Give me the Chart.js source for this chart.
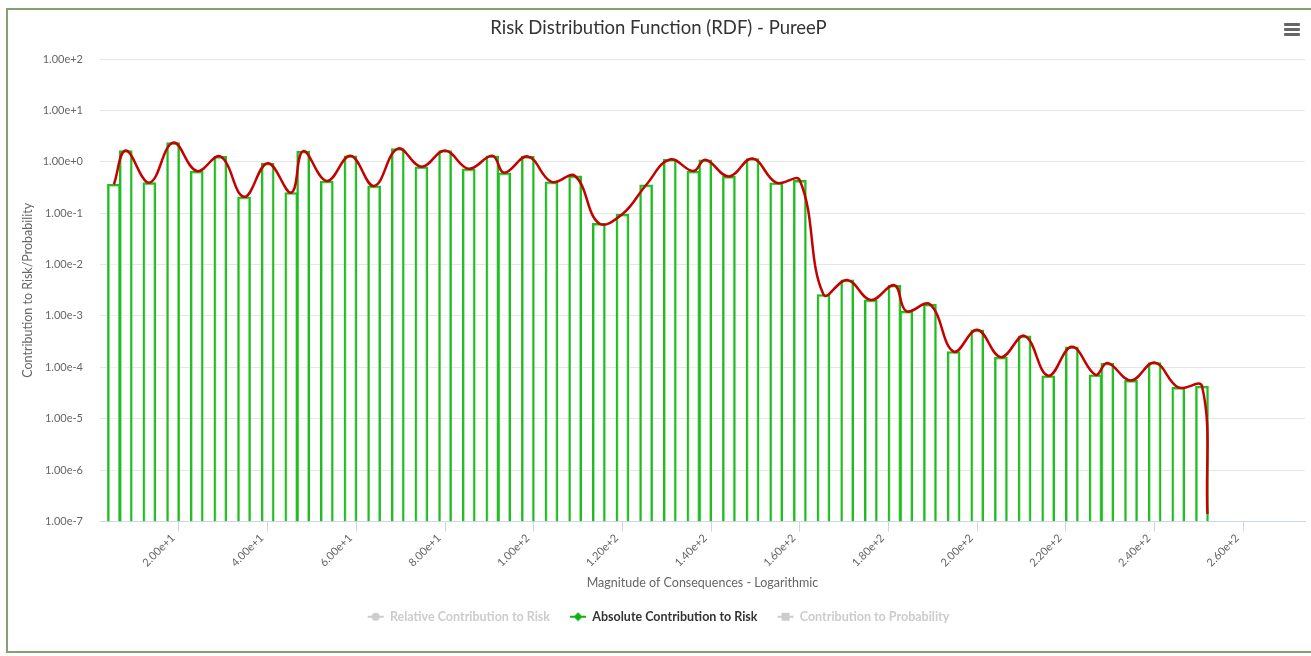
<!DOCTYPE html>
<html>
<head>
<meta charset="utf-8">
<title>Risk Distribution Function (RDF) - PureeP</title>
<script src="https://cdn.jsdelivr.net/npm/chart.js@4.4.1/dist/chart.umd.min.js"></script>
<style>
  html, body { margin: 0; padding: 0; background: #ffffff; overflow: hidden; }
  #wrap { position: relative; width: 1311px; height: 656px; }
  #rdf { position: absolute; left: 0; top: 0; }
  #frame { position: absolute; left: 6px; top: 8px; width: 1400px; height: 645px;
           border: 2px solid #83a26f; box-sizing: border-box; pointer-events: none; }
  #menu { position: absolute; left: 1284px; top: 23px; width: 16px; }
  #menu span { display: block; height: 3px; background: #666666; margin-bottom: 2px; border-radius: 1px; }
</style>
</head>
<body>
<div id="wrap">
  <canvas id="rdf" width="1311" height="656"></canvas>
  <div id="frame"></div>
  <div id="menu"><span></span><span></span><span></span></div>
</div>
<script>
// Consequence magnitudes (x) of each bin
const magnitudes = [
  5.33, 8.0, 13.33, 18.67, 24.0, 29.33, 34.67, 40.0, 45.33, 48.0,
  53.33, 58.67, 64.0, 69.33, 74.67, 80.0, 85.33, 90.67, 93.33, 98.67,
  104.0, 109.33, 114.67, 120.0, 125.33, 130.67, 136.0, 138.67, 144.0, 149.33,
  154.67, 160.0, 165.33, 170.67, 176.0, 181.33, 184.0, 189.33, 194.67, 200.0,
  205.33, 210.67, 216.0, 221.33, 226.67, 229.33, 234.67, 240.0, 245.33, 250.67
];

// Absolute contribution to risk for each bin
const absoluteRisk = [
  0.365, 1.66, 0.393, 2.36, 0.66, 1.27, 0.208, 0.94, 0.252, 1.61,
  0.423, 1.31, 0.339, 1.81, 0.80, 1.66, 0.73, 1.31, 0.61, 1.27,
  0.405, 0.53, 0.0634, 0.096, 0.354, 1.11, 0.66, 1.09, 0.519, 1.16,
  0.391, 0.434, 2.61e-3, 5.02e-3, 2.05e-3, 3.95e-3, 1.24e-3, 1.69e-3, 2.03e-4, 5.36e-4,
  1.58e-4, 4.10e-4, 6.86e-5, 2.51e-4, 7.16e-5, 1.21e-4, 5.56e-5, 1.24e-4, 4.06e-5, 4.32e-5
];

// Where the fitted curve closes off after the last bin
const tailMagnitude = 251.9;
const tailRisk = 1.4e-7;

// Axis tick values
const xTicks = [20, 40, 60, 80, 100, 120, 140, 160, 180, 200, 220, 240, 260];
const yTicks = [1e-7, 1e-6, 1e-5, 1e-4, 1e-3, 1e-2, 1e-1, 1e0, 1e1, 1e2];

const FONT = 'Lato, "Open Sans", "DejaVu Sans", sans-serif';
Chart.defaults.font.family = FONT;

const GREEN = '#1fbd1f';
const RED = '#c40000';
const MUTED = '#cccccc';

// Legend symbol: short line with a marker in the middle
function legendSymbol(color, shape) {
  const c = document.createElement('canvas');
  c.width = 18; c.height = 10;
  const g = c.getContext('2d');
  g.strokeStyle = color; g.lineWidth = 2;
  g.beginPath(); g.moveTo(1, 5); g.lineTo(17, 5); g.stroke();
  g.fillStyle = color;
  g.beginPath();
  if (shape === 'circle') {
    g.arc(9, 5, 4, 0, Math.PI * 2);
  } else if (shape === 'diamond') {
    g.moveTo(9, 0.5); g.lineTo(13.5, 5); g.lineTo(9, 9.5); g.lineTo(4.5, 5); g.closePath();
  } else {
    g.rect(5, 1, 8, 8);
  }
  g.fill();
  return c;
}

const barPoints = magnitudes.map((m, i) => ({ x: m, y: absoluteRisk[i] }));
const curvePoints = barPoints.concat([{ x: tailMagnitude, y: tailRisk }]);

const chart = new Chart(document.getElementById('rdf'), {
  type: 'bar',
  data: {
    datasets: [
      {
        type: 'line',
        label: 'Relative Contribution to Risk',
        legendShape: 'circle',
        legendColor: '#888888',
        data: [],
        hidden: true
      },
      {
        type: 'bar',
        label: 'Absolute Contribution to Risk',
        legendShape: 'diamond',
        legendColor: '#11b011',
        data: barPoints,
        backgroundColor: 'rgba(255,255,255,0.35)',
        borderColor: GREEN,
        borderWidth: 2,
        borderSkipped: 'start',
        barThickness: 13,
        order: 2
      },
      {
        type: 'line',
        label: 'Contribution to Probability',
        legendShape: 'square',
        legendColor: '#888888',
        data: [],
        hidden: true
      },
      {
        type: 'line',
        label: 'Absolute Contribution to Risk (fit)',
        data: curvePoints,
        borderColor: RED,
        borderWidth: 2.5,
        pointRadius: 0,
        pointHoverRadius: 0,
        tension: 0.4,
        fill: false,
        order: 0
      }
    ]
  },
  options: {
    responsive: false,
    animation: false,
    events: [],
    layout: { padding: { left: 12, right: 6, top: 0, bottom: 23 } },
    plugins: {
      title: {
        display: true,
        text: 'Risk Distribution Function (RDF) - PureeP',
        color: '#333333',
        font: { family: FONT, size: 18.5, weight: 'normal' },
        padding: { top: 17, bottom: 19.8 }
      },
      legend: {
        display: true,
        position: 'bottom',
        labels: {
          usePointStyle: true,
          pointStyleWidth: 16,
          boxHeight: 12,
          padding: 20,
          font: { family: FONT, size: 12.5, weight: 'bold' },
          generateLabels: (ch) => ch.data.datasets
            .map((ds, i) => ({ ds, i }))
            .filter(({ ds }) => ds.legendShape)
            .map(({ ds, i }) => {
              const visible = ch.isDatasetVisible(i);
              return {
                text: ds.label,
                datasetIndex: i,
                hidden: false,
                fontColor: visible ? '#333333' : MUTED,
                pointStyle: legendSymbol(visible ? ds.legendColor : MUTED, ds.legendShape),
                lineWidth: 0,
                strokeStyle: 'transparent',
                fillStyle: 'transparent'
              };
            })
        }
      },
      tooltip: { enabled: false }
    },
    scales: {
      x: {
        type: 'linear',
        min: 2.19,
        max: 273.9,
        offset: false,
        afterBuildTicks: (scale) => { scale.ticks = xTicks.map(v => ({ value: v })); },
        afterFit: (scale) => { scale.height = 69; },
        ticks: {
          minRotation: 45,
          maxRotation: 45,
          autoSkip: false,
          padding: 0,
          labelOffset: -6,
          color: '#666666',
          font: { family: FONT, size: 11 },
          callback: (v) => Number(v).toExponential(2)
        },
        grid: {
          display: true,
          offset: false,
          drawOnChartArea: false,
          drawTicks: true,
          tickLength: 10,
          color: '#ccd6eb',
          lineWidth: 1
        },
        border: { display: true, color: '#ccd6eb', width: 1 },
        title: {
          display: true,
          text: 'Magnitude of Consequences - Logarithmic',
          color: '#666666',
          font: { family: FONT, size: 12.5 },
          padding: { top: 0, bottom: 0 }
        }
      },
      y: {
        type: 'logarithmic',
        min: 1e-7,
        max: 1e2,
        afterBuildTicks: (scale) => { scale.ticks = yTicks.map(v => ({ value: v })); },
        afterFit: (scale) => { scale.width = 88; },
        ticks: {
          padding: 17,
          color: '#666666',
          font: { family: FONT, size: 11 },
          callback: (v) => Number(v).toExponential(2)
        },
        grid: { color: '#e6e6e6', lineWidth: 1, drawTicks: false },
        border: { display: false },
        title: {
          display: true,
          text: 'Contribution to Risk/Probability',
          color: '#666666',
          font: { family: FONT, size: 12.5 },
          padding: { top: 8, bottom: 0 }
        }
      }
    }
  }
});
</script>
</body>
</html>
